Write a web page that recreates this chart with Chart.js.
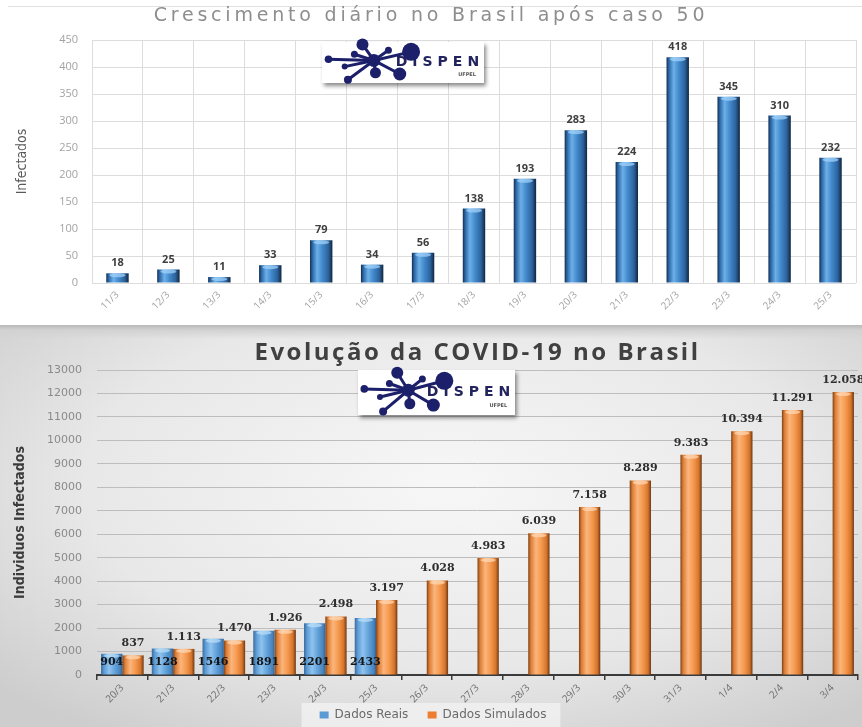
<!DOCTYPE html>
<html>
<head>
  <title>COVID-19 no Brasil</title>
  <script src="https://cdn.jsdelivr.net/npm/chart.js"></script>
  <style>
    body {
      margin: 0;
      width: 862px;
      height: 727px;
      overflow: hidden;
      background: #fff;
      position: relative;
    }
    #painelTopo {
      position: absolute;
      left: 0;
      top: 0;
      width: 862px;
      height: 325px;
      background: #fff;
    }
    #painelTopo .linha {
      position: absolute;
      left: 8px;
      right: 0;
      top: 6px;
      height: 1px;
      background: #e2e2e2;
    }
    #painelBase {
      position: absolute;
      left: 0;
      top: 325px;
      width: 862px;
      height: 402px;
      overflow: hidden;
      background:
        linear-gradient(to bottom, #b9b9b9 0px, #d2d2d2 5px, rgba(230,230,230,0) 14px),
        radial-gradient(ellipse 70% 75% at 52% 40%, #f7f7f7 0%, #e8e8e8 60%, #cdcdcd 100%);
    }
    canvas { position: absolute; left: 0; top: 0; }
  </style>
</head>
<body>
  <div id="painelTopo">
    <div class="linha"></div>
    <canvas id="graficoCrescimento" width="862" height="325"></canvas>
  </div>
  <div id="painelBase">
    <canvas id="graficoEvolucao" width="862" height="406"></canvas>
  </div>

  <script>
    // casos novos por dia depois do caso 50
    const diasCrescimento = ['11/3', '12/3', '13/3', '14/3', '15/3', '16/3', '17/3', '18/3',
      '19/3', '20/3', '21/3', '22/3', '23/3', '24/3', '25/3'];
    const novosCasos = [18, 25, 11, 33, 79, 34, 56, 138, 193, 283, 224, 418, 345, 310, 232];
    const maxCrescimento = 450;
    const passoCrescimento = 50;

    // acumulado real x simulado
    const diasEvolucao = ['20/3', '21/3', '22/3', '23/3', '24/3', '25/3', '26/3', '27/3',
      '28/3', '29/3', '30/3', '31/3', '1/4', '2/4', '3/4'];
    const dadosReais = [904, 1128, 1546, 1891, 2201, 2433];
    const dadosSimulados = [837, 1113, 1470, 1926, 2498, 3197, 4028, 4983, 6039, 7158,
      8289, 9383, 10394, 11291, 12058];
    const maxEvolucao = 13000;
    const passoEvolucao = 1000;

    function milhar(v) {
      return String(v).replace(/\B(?=(\d{3})+(?!\d))/g, '.');
    }

    // gradiente horizontal para dar cara de cilindro
    function cilindro(paradas) {
      return function (c) {
        const el = c.element;
        if (!el || !isFinite(el.x) || !isFinite(el.width)) return paradas[2][1];
        const g = c.chart.ctx.createLinearGradient(el.x - el.width / 2, 0, el.x + el.width / 2, 0);
        paradas.forEach(p => g.addColorStop(p[0], p[1]));
        return g;
      };
    }

    const azulEscuro = [[0, '#132d4d'], [0.1, '#2a64a3'], [0.32, '#6cb0e8'], [0.55, '#4289cc'],
      [0.82, '#2c629c'], [1, '#10263f']];
    const azulClaro = [[0, '#3b6b9c'], [0.14, '#5b9bd5'], [0.38, '#8fc3ef'], [0.68, '#5e9ed7'],
      [0.9, '#4a82bb'], [1, '#33608e']];
    const laranja = [[0, '#7d4116'], [0.12, '#dc7c34'], [0.36, '#fbb57c'], [0.62, '#f5984d'],
      [0.86, '#d5752d'], [1, '#6f3812']];

    // titulo com espaçamento entre letras
    const tituloPainel = {
      id: 'tituloPainel',
      afterDraw(chart, args, o) {
        const ctx = chart.ctx;
        ctx.save();
        ctx.font = o.font;
        ctx.fillStyle = o.color;
        ctx.textAlign = 'center';
        ctx.textBaseline = 'middle';
        if ('letterSpacing' in ctx) ctx.letterSpacing = o.spacing || '0px';
        const x = o.centro === 'area'
          ? (chart.chartArea.left + chart.chartArea.right) / 2
          : chart.width / 2;
        ctx.fillText(o.text, x, o.y);
        ctx.restore();
      }
    };

    // logo do grupo
    function desenhaLogo(ctx, x, y, w, h) {
      ctx.save();
      ctx.shadowColor = 'rgba(0,0,0,0.45)';
      ctx.shadowBlur = 4;
      ctx.shadowOffsetX = 2;
      ctx.shadowOffsetY = 3;
      ctx.fillStyle = '#fff';
      ctx.fillRect(x, y, w, h);
      ctx.restore();

      ctx.save();
      const px = f => x + f * w;
      const py = f => y + f * h;
      ctx.fillStyle = '#23245e';
      ctx.textAlign = 'right';
      ctx.textBaseline = 'middle';
      ctx.font = 'bold 14px "DejaVu Sans", sans-serif';
      if ('letterSpacing' in ctx) ctx.letterSpacing = '5px';
      ctx.fillText('DISPEN', px(0.97) + 5, py(0.5));
      ctx.font = 'bold 5px "DejaVu Sans", sans-serif';
      if ('letterSpacing' in ctx) ctx.letterSpacing = '0px';
      ctx.fillStyle = '#555';
      ctx.fillText('UFPEL', px(0.95), py(0.8));

      const navy = '#1c1f6a';
      const hub = [0.32, 0.45];
      const nos = [[0.04, 0.42, 3.8], [0.25, 0.06, 6], [0.55, 0.24, 9], [0.16, 0.92, 4],
        [0.33, 0.75, 5.5], [0.48, 0.78, 6.5], [0.2, 0.3, 3.5], [0.14, 0.6, 3], [0.41, 0.2, 3.5]];
      ctx.strokeStyle = navy;
      ctx.fillStyle = navy;
      ctx.lineWidth = 3;
      ctx.lineCap = 'round';
      nos.forEach(n => {
        ctx.beginPath();
        ctx.moveTo(px(hub[0]), py(hub[1]));
        ctx.lineTo(px(n[0]), py(n[1]));
        ctx.stroke();
        ctx.beginPath();
        ctx.arc(px(n[0]), py(n[1]), n[2], 0, Math.PI * 2);
        ctx.fill();
      });
      ctx.beginPath();
      ctx.arc(px(hub[0]), py(hub[1]), 6.5, 0, Math.PI * 2);
      ctx.fill();
      ctx.restore();
    }

    const logo = {
      id: 'logo',
      afterDatasetsDraw(chart, args, o) {
        desenhaLogo(chart.ctx, o.x, o.y, o.w, o.h);
      }
    };

    // tampa clara no topo das barras e valores
    const rotulos = {
      id: 'rotulos',
      afterDatasetsDraw(chart) {
        const ctx = chart.ctx;
        chart.data.datasets.forEach((ds, i) => {
          const meta = chart.getDatasetMeta(i);
          meta.data.forEach((bar, j) => {
            const v = ds.data[j];
            if (v == null) return;
            if (ds.tampa) {
              ctx.save();
              ctx.fillStyle = ds.tampa;
              ctx.beginPath();
              ctx.ellipse(bar.x, bar.y + 2, bar.width * 0.36, 2, 0, 0, Math.PI * 2);
              ctx.fill();
              ctx.restore();
            }
          });
        });
        chart.data.datasets.forEach((ds, i) => {
          if (!ds.rotulo) return;
          const r = ds.rotulo;
          const meta = chart.getDatasetMeta(i);
          meta.data.forEach((bar, j) => {
            const v = ds.data[j];
            if (v == null) return;
            ctx.save();
            ctx.font = r.font;
            ctx.fillStyle = r.color;
            ctx.textAlign = 'center';
            ctx.textBaseline = 'middle';
            const y = r.naBase ? bar.base - r.offset : bar.y - r.offset;
            ctx.fillText(r.formato(v), bar.x, y);
            ctx.restore();
          });
        });
      }
    };

    // fundo claro atras da legenda
    const fundoLegenda = {
      id: 'fundoLegenda',
      beforeDraw(chart) {
        const lg = chart.legend;
        if (!lg || !lg.legendHitBoxes || !lg.legendHitBoxes.length) return;
        const hb = lg.legendHitBoxes;
        const esq = hb[0].left - 18;
        const dir = hb[hb.length - 1].left + hb[hb.length - 1].width + 14;
        const ctx = chart.ctx;
        ctx.save();
        ctx.fillStyle = 'rgba(238,238,238,0.95)';
        ctx.fillRect(esq, hb[0].top - 6, dir - esq, 40);
        ctx.restore();
      }
    };

    const fonteTick = '"Open Sans", sans-serif';

    const graficoCrescimento = new Chart(document.getElementById('graficoCrescimento'), {
      type: 'bar',
      data: {
        labels: diasCrescimento,
        datasets: [{
          label: 'Infectados',
          data: novosCasos,
          backgroundColor: cilindro(azulEscuro),
          borderWidth: 0,
          categoryPercentage: 0.44,
          barPercentage: 1,
          tampa: 'rgba(160,210,250,0.75)',
          rotulo: {
            font: 'bold 11px "Open Sans", sans-serif',
            color: '#3f3f3f',
            offset: 10,
            formato: v => String(v)
          }
        }]
      },
      options: {
        responsive: false,
        animation: false,
        layout: { padding: { top: 40, left: 10, right: 6, bottom: 0 } },
        plugins: {
          legend: { display: false },
          tooltip: { enabled: false },
          tituloPainel: {
            text: 'Crescimento diário no Brasil após caso 50',
            font: '19px "DejaVu Sans", sans-serif',
            color: '#8e8e8e',
            spacing: '3.8px',
            y: 16
          },
          logo: { x: 322, y: 42, w: 162, h: 41 }
        },
        scales: {
          x: {
            grid: { color: '#dcdcdc', offset: true, drawTicks: false },
            border: { display: false },
            ticks: {
              color: '#a3a3a3',
              font: { family: fonteTick, size: 10 },
              minRotation: 45,
              maxRotation: 45,
              padding: 6
            },
            afterFit(s) { s.height = 42; }
          },
          y: {
            min: 0,
            max: maxCrescimento,
            grid: { color: '#dcdcdc', drawTicks: false },
            border: { display: false },
            ticks: {
              stepSize: passoCrescimento,
              color: '#a3a3a3',
              font: { family: fonteTick, size: 11 },
              padding: 14,
              callback: v => String(v)
            },
            title: {
              display: true,
              text: 'Infectados',
              color: '#595959',
              font: { family: '"Liberation Sans Narrow", "DejaVu Sans Condensed", sans-serif', size: 14 }
            },
            afterFit(s) { s.width = 82; }
          }
        }
      },
      plugins: [tituloPainel, rotulos, logo]
    });
    graficoCrescimento.update();

    const graficoEvolucao = new Chart(document.getElementById('graficoEvolucao'), {
      type: 'bar',
      data: {
        labels: diasEvolucao,
        datasets: [{
          label: 'Dados Reais',
          data: dadosReais,
          backgroundColor: cilindro(azulClaro),
          borderWidth: 0,
          categoryPercentage: 0.84,
          barPercentage: 1,
          tampa: 'rgba(190,225,250,0.7)',
          rotulo: {
            font: 'bold 11px "DejaVu Serif", serif',
            color: '#151515',
            offset: 12,
            naBase: true,
            formato: v => String(v)
          }
        }, {
          label: 'Dados Simulados',
          data: dadosSimulados,
          backgroundColor: cilindro(laranja),
          borderWidth: 0,
          categoryPercentage: 0.84,
          barPercentage: 1,
          tampa: 'rgba(255,215,180,0.75)',
          rotulo: {
            font: 'bold 11px "DejaVu Serif", serif',
            color: '#2e2e2e',
            offset: 12,
            formato: milhar
          }
        }]
      },
      options: {
        responsive: false,
        animation: false,
        layout: { padding: { top: 45, left: 8, right: 4, bottom: 0 } },
        plugins: {
          legend: {
            position: 'bottom',
            labels: {
              color: '#6a6a6a',
              font: { family: '"DejaVu Sans", sans-serif', size: 12 },
              boxWidth: 9,
              boxHeight: 7,
              padding: 4,
              generateLabels(chart) {
                const cores = ['#5b9bd5', '#ed7d31'];
                const n = chart.data.datasets.length;
                return chart.data.datasets.map((ds, i) => ({
                  // espaço extra entre os dois itens
                  text: ds.label + (i < n - 1 ? '    ' : ''),
                  fillStyle: cores[i],
                  strokeStyle: cores[i],
                  lineWidth: 0,
                  fontColor: '#6a6a6a',
                  datasetIndex: i
                }));
              }
            }
          },
          tooltip: { enabled: false },
          tituloPainel: {
            text: 'Evolução da COVID-19 no Brasil',
            font: 'bold 24px "Open Sans", sans-serif',
            color: '#404040',
            spacing: '2.5px',
            centro: 'area',
            y: 28
          },
          logo: { x: 358, y: 45, w: 157, h: 45 }
        },
        scales: {
          x: {
            grid: {
              display: true,
              drawOnChartArea: false,
              drawTicks: true,
              tickLength: 5,
              color: '#3a3a3a',
              lineWidth: 1.5,
              offset: true
            },
            border: { display: true, color: '#3a3a3a', width: 2 },
            ticks: {
              color: '#6e6e6e',
              font: { family: fonteTick, size: 10 },
              minRotation: 45,
              maxRotation: 45,
              padding: 2
            },
            afterFit(s) { s.height = 30; }
          },
          y: {
            min: 0,
            max: maxEvolucao,
            grid: { color: '#bdbdbd', drawTicks: false },
            border: { display: false },
            ticks: {
              stepSize: passoEvolucao,
              color: '#8a8a8a',
              font: { family: '"DejaVu Sans", sans-serif', size: 11 },
              padding: 15,
              callback: v => String(v)
            },
            title: {
              display: true,
              text: 'Individuos Infectados',
              color: '#3c3c3c',
              font: { family: '"Liberation Sans Narrow", "DejaVu Sans Condensed", sans-serif', size: 14, weight: 'bold' }
            },
            afterFit(s) { s.width = 89; }
          }
        }
      },
      plugins: [fundoLegenda, tituloPainel, rotulos, logo]
    });
    graficoEvolucao.update();
  </script>
</body>
</html>
